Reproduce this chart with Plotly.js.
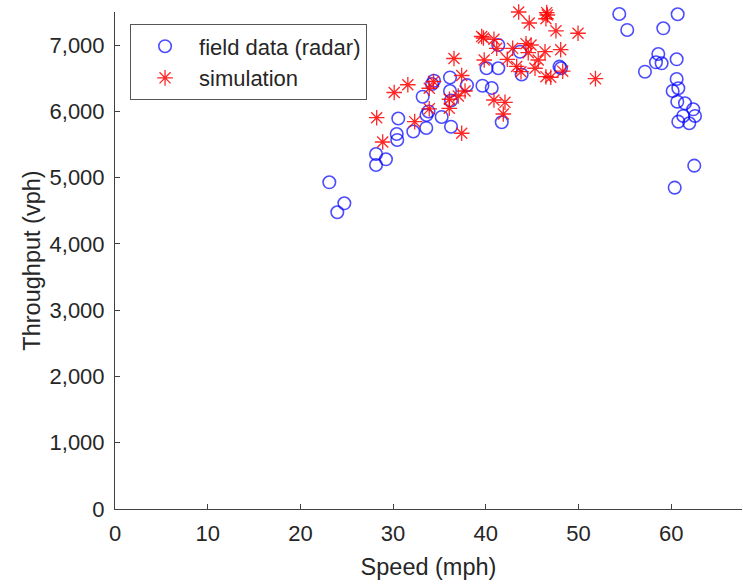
<!DOCTYPE html>
<html>
<head>
<meta charset="utf-8">
<script src="https://cdn.plot.ly/plotly-3.0.1.min.js"></script>
<style>html,body{margin:0;padding:0;background:#fff}#chart{width:743px;height:585px}</style>
</head>
<body>
<div id="chart"></div>
<script>
// field data (radar): speed (mph), throughput (vph)
var fieldSpeed = [23.12,23.98,24.74,28.16,28.16,29.23,30.39,30.45,30.56,32.18,33.19,33.58,33.82,33.60,34.20,34.41,35.24,36.14,36.14,36.25,36.25,37.97,39.64,40.08,40.64,41.35,41.35,41.72,43.69,43.87,47.95,48.11,54.40,55.26,57.17,58.36,58.61,58.97,59.15,60.16,60.38,60.59,60.59,60.70,60.66,60.77,60.77,61.30,61.49,61.95,62.38,62.57,62.49];
var fieldFlow  = [4930,4478,4613,5357,5191,5277,5659,5569,5893,5697,6222,5750,5999,5946,6414,6463,5916,6512,6308,6165,5769,6396,6388,6651,6353,7002,6651,5836,6901,6557,6675,6651,7470,7229,6599,6741,6866,6726,7254,6308,4849,6786,6489,7466,6147,6349,5845,5931,6122,5821,6032,5931,5181];
// simulation
var simSpeed = [28.23,28.88,30.12,31.59,32.33,33.90,33.90,34.36,36.08,36.06,36.57,37.03,37.40,37.76,37.40,39.56,39.75,39.83,40.88,40.88,41.18,42.07,41.89,42.32,42.90,43.33,43.55,43.80,44.34,44.58,44.69,44.88,45.31,45.66,46.39,46.49,46.57,46.64,46.49,47.01,47.57,48.08,48.30,49.95,51.83];
var simFlow  = [5905,5538,6285,6402,5845,6349,6039,6451,6183,6047,6798,6233,6542,6308,5670,7130,7108,6776,7088,6172,6952,6137,5961,6786,6952,6678,7500,6599,7022,6886,7334,7002,6651,6776,6901,6524,7490,7455,7398,6515,7216,6931,6607,7179,6494];
var seriesNames = ['field data (radar)', 'simulation'];
var xTitle = 'Speed (mph)';
var yTitle = 'Throughput (vph)';

var FONT = 'Liberation Sans, Arial, sans-serif';
var AX = '#404040';
var TXT = '#262626';
var traces = [
  {x: fieldSpeed, y: fieldFlow, name: seriesNames[0], type: 'scatter', mode: 'markers', cliponaxis: false,
   marker: {symbol: 'circle-open', size: 12.5, color: 'rgba(0,0,255,0.7)', line: {width: 1.6, color: 'rgba(0,0,255,0.7)'}}},
  {x: simSpeed, y: simFlow, name: seriesNames[1], type: 'scatter', mode: 'markers', cliponaxis: false,
   marker: {symbol: 'asterisk-open', size: 13, color: 'rgba(255,0,0,0.85)', line: {width: 1.3, color: 'rgba(255,0,0,0.85)'}}}
];
var layout = {
  width: 743, height: 585,
  margin: {l: 115, r: 1, t: 12, b: 76},
  paper_bgcolor: '#fff', plot_bgcolor: '#fff',
  font: {family: FONT, color: TXT},
  showlegend: true,
  legend: {x: 0.024, y: 0.975, xanchor: 'left', yanchor: 'top', bgcolor: '#fff', itemwidth: 58,
           bordercolor: '#555', borderwidth: 1, font: {family: FONT, size: 22, color: TXT}},
  xaxis: {range: [0, 67.64], dtick: 10, tick0: 0, ticks: 'inside', ticklen: 5, tickcolor: AX,
          showline: true, linecolor: AX, linewidth: 1, showgrid: false, zeroline: false,
          ticklabelstandoff: 5,
          tickfont: {family: FONT, size: 22, color: TXT},
          title: {text: xTitle, font: {family: FONT, size: 23.5, color: TXT}, standoff: 13}},
  yaxis: {range: [0, 7500], dtick: 1000, tick0: 0, ticks: 'inside', ticklen: 5, tickcolor: AX,
          tickformat: ',d', showline: true, linecolor: AX, linewidth: 1, showgrid: false, zeroline: false,
          ticklabelstandoff: 5,
          tickfont: {family: FONT, size: 22, color: TXT},
          title: {text: yTitle, font: {family: FONT, size: 23.5, color: TXT}, standoff: 2}}
};
Plotly.newPlot('chart', traces, layout, {displayModeBar: false, staticPlot: true});
</script>
</body>
</html>
